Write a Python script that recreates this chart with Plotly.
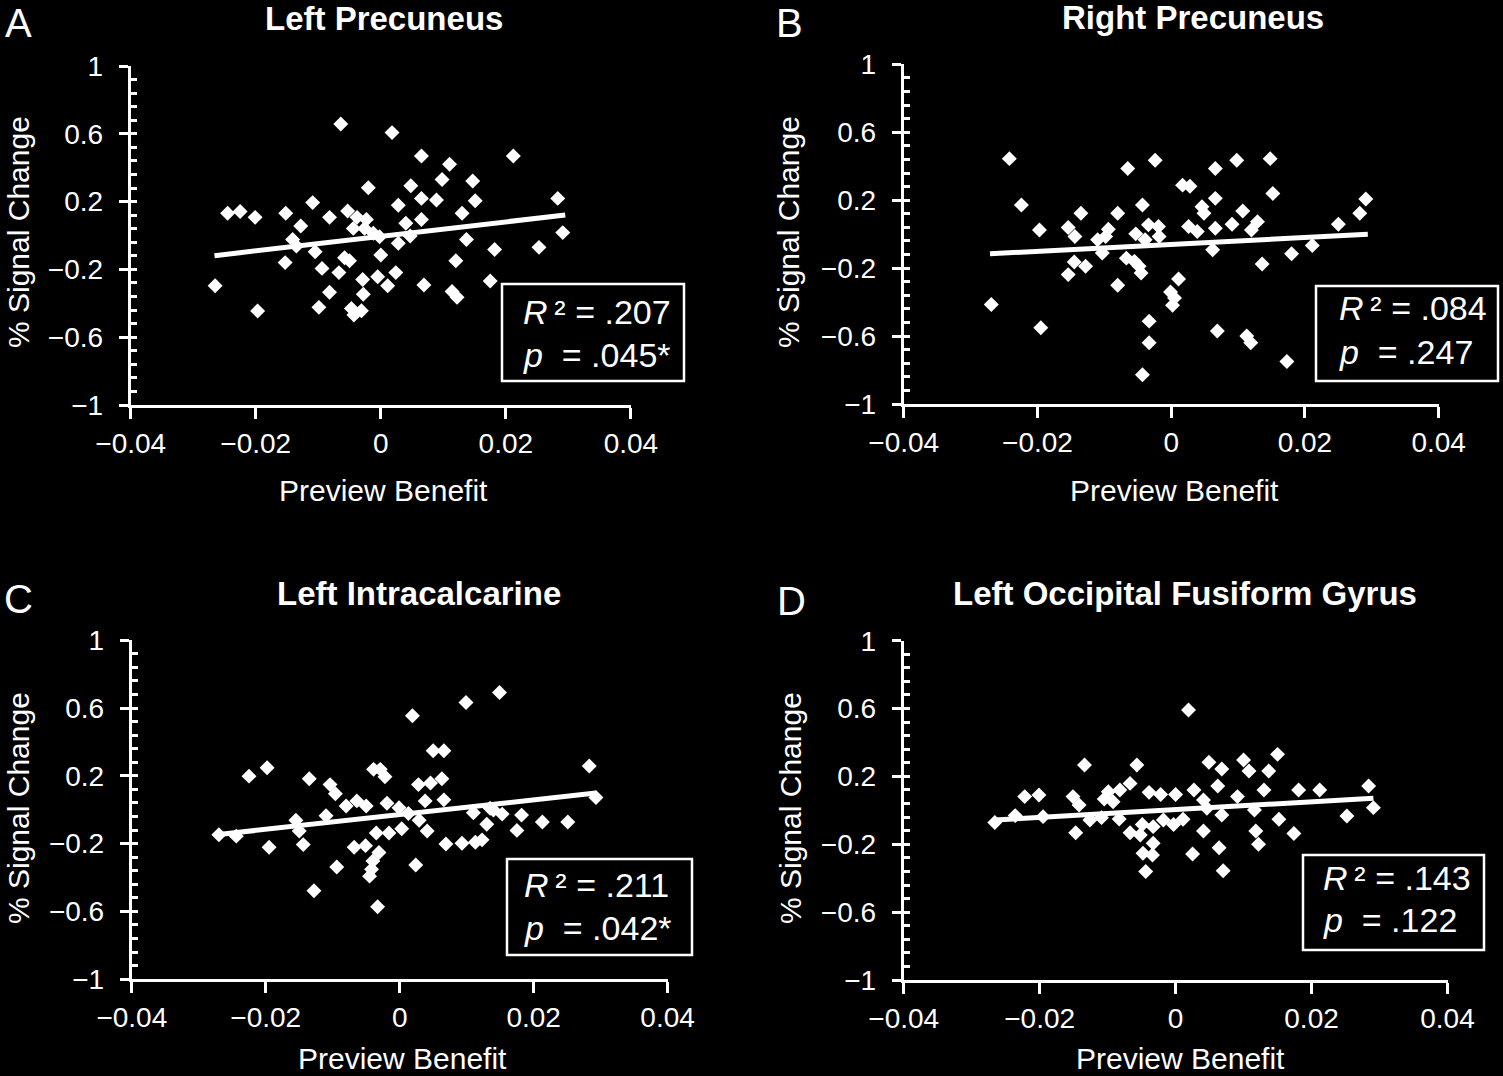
import plotly.graph_objects as go

W, H = 1503, 1076

# ---------------- data ----------------
panel_titles = ["Left Precuneus", "Right Precuneus", "Left Intracalcarine", "Left Occipital Fusiform Gyrus"]
panel_letters = ["A", "B", "C", "D"]
r2_labels = [".207", ".084", ".211", ".143"]
p_labels = [".045*", ".247", ".042*", ".122"]
x_tickvals = [-0.04, -0.02, 0, 0.02, 0.04]
x_ticktext = ["\u22120.04", "\u22120.02", "0", "0.02", "0.04"]
y_tickvals = [-1, -0.6, -0.2, 0.2, 0.6, 1]
y_ticktext = ["\u22121", "\u22120.6", "\u22120.2", "0.2", "0.6", "1"]
x_title = "Preview Benefit"
y_title = "% Signal Change"

A_x = [-0.0064, 0.0018, 0.0065, 0.0110, 0.0212, 0.0098, 0.0147, -0.0020, 0.0048, 0.0065, 0.0089, 0.0151,
       0.0283, -0.0109, 0.0028, -0.0245, -0.0225, -0.0201, -0.0152, -0.0082, -0.0053, -0.0038, -0.0023, 0.0130,
       0.0065, 0.0040, -0.0128, -0.0044, -0.0026, -0.0012, 0.0047, 0.0291, -0.0141, -0.0135, 0.0028, 0.0137,
       -0.0002, 0.0182, 0.0253, -0.0105, -0.0058, -0.0050, 0.0000, -0.0153, 0.0120, -0.0094, -0.0067, 0.0024,
       -0.0029, -0.0005, 0.0011, -0.0265, 0.0069, 0.0175, -0.0082, -0.0028, 0.0114, 0.0122, -0.0197, -0.0099,
       -0.0047, -0.0031, -0.0043]
A_y = [0.658, 0.607, 0.469, 0.420, 0.469, 0.331, 0.322, 0.282, 0.294, 0.219, 0.209, 0.205,
       0.219, 0.194, 0.178, 0.131, 0.141, 0.107, 0.131, 0.107, 0.145, 0.107, 0.095, 0.131,
       0.095, 0.072, 0.056, 0.042, 0.042, 0.013, -0.003, 0.017, -0.023, -0.062, -0.046, -0.023,
       -0.007, -0.082, -0.070, -0.096, -0.131, -0.149, -0.115, -0.160, -0.149, -0.194, -0.219, -0.219,
       -0.259, -0.243, -0.296, -0.296, -0.292, -0.268, -0.335, -0.347, -0.331, -0.365, -0.445, -0.424,
       -0.430, -0.444, -0.469]

B_x = [-0.0242, -0.0224, -0.0197, -0.0269, -0.0195, -0.0154, -0.0144, -0.0135, -0.0145, -0.0128, -0.0154,
       -0.0110, -0.0103, -0.0094, -0.0098, -0.0080, -0.0080, -0.0065, -0.0043, -0.0053, -0.0034, -0.0019,
       -0.0018, -0.0039, -0.0067, -0.0055, -0.0048, -0.0045, -0.0024, 0.0011, -0.0001, 0.0005, 0.0002,
       -0.0033, -0.0033, -0.0043, 0.0017, 0.0028, 0.0066, 0.0098, 0.0148, 0.0152, 0.0066, 0.0046, 0.0049,
       0.0026, 0.0039, 0.0066, 0.0091, 0.0107, 0.0129, 0.0120, 0.0062, 0.0136, 0.0180, 0.0211, 0.0250,
       0.0282, 0.0291, 0.0069, 0.0113, 0.0119, 0.0173]
B_y = [0.445, 0.172, 0.025, -0.414, -0.551, 0.039, -0.014, 0.123, -0.164, -0.189, -0.238,
       -0.033, -0.111, 0.029, -0.014, 0.123, -0.301, 0.387, 0.172, 0.002, 0.055, 0.045,
       -0.014, -0.033, -0.141, -0.160, -0.189, -0.229, 0.436, -0.264, -0.340, -0.375, -0.418,
       -0.512, -0.639, -0.828, 0.289, 0.283, 0.387, 0.436, 0.445, 0.240, 0.211, 0.162, 0.123,
       0.045, 0.016, 0.035, 0.059, 0.137, 0.074, 0.025, -0.092, -0.176, -0.115, -0.066, 0.059,
       0.123, 0.207, -0.570, -0.600, -0.639, -0.750]

C_x = [-0.0270, -0.0244, -0.0225, -0.0198, -0.0195, -0.0155, -0.0150, -0.0144, -0.0135, -0.0128, -0.0110,
       -0.0104, -0.0096, -0.0094, -0.0080, -0.0064, -0.0050, -0.0068, -0.0051, -0.0039, -0.0029, -0.0022,
       -0.0019, -0.0035, -0.0016, -0.0031, -0.0040, -0.0042, -0.0045, -0.0033, -0.0001, 0.0003, 0.0019,
       0.0013, 0.0028, 0.0029, 0.0038, 0.0041, 0.0024, 0.0046, 0.0063, 0.0050, 0.0066, 0.0066, 0.0069,
       0.0093, 0.0099, 0.0110, 0.0113, 0.0123, 0.0130, 0.0140, 0.0149, 0.0153, 0.0175, 0.0182, 0.0213,
       0.0251, 0.0283, 0.0293, 0.0135]
C_y = [-0.148, -0.156, 0.198, 0.248, -0.222, -0.062, -0.126, -0.206, 0.182, -0.478, -0.036,
       0.148, 0.094, -0.338, 0.022, 0.052, 0.022, -0.222, -0.212, 0.238, 0.238, 0.194,
       0.038, -0.138, -0.138, -0.252, -0.302, -0.352, -0.392, -0.572, 0.012, -0.112, 0.554,
       -0.022, 0.148, -0.062, 0.052, -0.126, -0.326, 0.158, 0.182, 0.348, 0.348, 0.058, -0.202,
       -0.198, 0.632, -0.018, -0.192, -0.178, -0.086, -0.002, 0.692, -0.026, -0.122, -0.032, -0.072,
       -0.072, 0.258, 0.072, 0.008]

D_x = [0.0019, -0.0134, -0.0057, 0.0049, 0.0068, 0.0100, 0.0108, 0.0137, 0.0150, -0.0222, -0.0201,
       -0.0151, -0.0142, -0.0099, -0.0082, -0.0067, -0.0105, -0.0092, -0.0039, -0.0022, 0.0000, 0.0027,
       0.0062, 0.0091, 0.0130, 0.0181, 0.0212, 0.0284, 0.0041, 0.0046, 0.0068, 0.0116, 0.0291, -0.0266,
       -0.0236, -0.0195, -0.0126, -0.0109, -0.0083, -0.0147, -0.0067, -0.0049, -0.0052, -0.0033, -0.0018,
       -0.0003, 0.0011, 0.0041, -0.0033, -0.0048, -0.0034, -0.0044, 0.0025, 0.0064, 0.0070, 0.0118,
       0.0122, 0.0152, 0.0174, 0.0252]
D_y = [0.591, 0.267, 0.267, 0.283, 0.244, 0.297, 0.232, 0.232, 0.330, 0.081, 0.090,
       0.081, 0.031, 0.110, 0.120, 0.159, 0.067, 0.051, 0.106, 0.094, 0.094, 0.120,
       0.143, 0.081, 0.120, 0.120, 0.120, 0.143, 0.061, 0.012, -0.028, 0.002, 0.016, -0.071,
       -0.031, -0.037, -0.057, -0.043, -0.051, -0.132, -0.132, -0.083, -0.145, -0.096, -0.057,
       -0.083, -0.053, -0.122, -0.194, -0.253, -0.263, -0.361, -0.257, -0.220, -0.356, -0.122,
       -0.200, -0.053, -0.136, -0.033]

trend_A_x = [-0.0266, 0.0295]
trend_A_y = [-0.119, 0.121]
trend_B_x = [-0.0271, 0.0294]
trend_B_y = [-0.115, 0.000]
trend_C_x = [-0.0270, 0.0293]
trend_C_y = [-0.146, 0.098]
trend_D_x = [-0.0266, 0.0291]
trend_D_y = [-0.057, 0.071]

# ---------------- layout (pixel geometry) ----------------
FONT = "Liberation Sans, Arial, Helvetica, sans-serif"
WHITE = "white"

# plot area per panel: (x_left, x_right, y_top, y_bottom) in px
plot_px = [(130.7, 630.9, 66.0, 405.0),
           (903.7, 1438.7, 64.4, 404.0),
           (131.8, 667.6, 640.2, 979.2),
           (903.7, 1447.5, 640.7, 980.0)]
title_pos = [(384, 18), (1193, 17), (419, 594), (1185, 594)]
letter_pos = [(18, 0), (789, 0), (18, 576), (791, 578)]      # top-anchored
xtitle_pos = [(383, 490), (1174, 490), (403, 1076), (1180, 1076)]
xtitle_anchor = ["middle", "middle", "bottom", "bottom"]
ytitle_pos = [(18, 232), (788, 232), (18, 808), (790, 808)]
box_px = [(502, 684, 284, 381), (1316, 1498, 286, 381), (507, 692, 859, 955), (1303, 1484, 855, 950)]
text_left = [521, 1337, 522, 1321]
line1_y = [312, 308, 885, 878]
line2_y = [355, 352, 928, 920]


def fx(px):
    return px / W


def fy(py):
    return 1 - py / H


series = [(A_x, A_y, trend_A_x, trend_A_y),
          (B_x, B_y, trend_B_x, trend_B_y),
          (C_x, C_y, trend_C_x, trend_C_y),
          (D_x, D_y, trend_D_x, trend_D_y)]

fig = go.Figure()
layout = dict(
    width=W, height=H,
    margin=dict(l=0, r=0, t=0, b=0, pad=0, autoexpand=False),
    paper_bgcolor="black", plot_bgcolor="black",
    showlegend=False,
    font=dict(family=FONT, color=WHITE),
)
annotations = []
shapes = []

for i, (xs, ys, tx, ty) in enumerate(series):
    n = i + 1
    xa = "x" if n == 1 else f"x{n}"
    ya = "y" if n == 1 else f"y{n}"
    ya_over = f"y{n + 4}"
    fig.add_trace(go.Scatter(x=tx, y=ty, mode="lines", xaxis=xa, yaxis=ya,
                             line=dict(color=WHITE, width=5), hoverinfo="skip"))
    fig.add_trace(go.Scatter(x=xs, y=ys, mode="markers", xaxis=xa, yaxis=ya,
                             marker=dict(symbol="diamond", size=11.5, color=WHITE,
                                         line=dict(width=0))))
    fig.add_trace(go.Scatter(x=[None], y=[None], xaxis=xa, yaxis=ya_over,
                             mode="markers", hoverinfo="skip"))

    x0, x1, y0, y1 = plot_px[i]
    xkey = "xaxis" if n == 1 else f"xaxis{n}"
    ykey = "yaxis" if n == 1 else f"yaxis{n}"
    layout[xkey] = dict(
        domain=[fx(x0), fx(x1)], anchor=ya, range=[-0.04, 0.04], automargin=False,
        tickmode="array", tickvals=x_tickvals, ticktext=x_ticktext,
        ticks="outside", ticklen=11, tickwidth=3, tickcolor=WHITE,
        showline=True, linewidth=3, linecolor=WHITE,
        showgrid=False, zeroline=False,
        tickfont=dict(family=FONT, size=28, color=WHITE),
        ticklabelstandoff=0,
    )
    layout[ykey] = dict(
        domain=[fy(y1), fy(y0)], anchor=xa, range=[-1, 1], automargin=False,
        tickmode="array", tickvals=y_tickvals, ticktext=y_ticktext,
        ticks="outside", ticklen=9, tickwidth=3, tickcolor=WHITE,
        showline=True, linewidth=3, linecolor=WHITE,
        showgrid=False, zeroline=False,
        tickfont=dict(family=FONT, size=28, color=WHITE),
        ticklabelstandoff=10,
    )
    layout[f"yaxis{n + 4}"] = dict(
        overlaying=ya, anchor=xa, side="left", range=[-1, 1], automargin=False,
        tickmode="linear", tick0=-1, dtick=0.08,
        ticks="inside", ticklen=6, tickwidth=3, tickcolor=WHITE,
        showticklabels=False, showline=False, showgrid=False, zeroline=False,
    )

    # title
    annotations.append(dict(text=f"<b>{panel_titles[i]}</b>", x=fx(title_pos[i][0]), y=fy(title_pos[i][1]),
                            xref="paper", yref="paper", xanchor="center", yanchor="middle",
                            showarrow=False, font=dict(family=FONT, size=33, color=WHITE)))
    # letter
    annotations.append(dict(text=panel_letters[i], x=fx(letter_pos[i][0]), y=fy(letter_pos[i][1]),
                            xref="paper", yref="paper", xanchor="center", yanchor="top",
                            borderpad=0, showarrow=False, font=dict(family=FONT, size=40, color=WHITE)))
    # axis titles
    annotations.append(dict(text=x_title, x=fx(xtitle_pos[i][0]), y=fy(xtitle_pos[i][1]),
                            xref="paper", yref="paper", xanchor="center", yanchor=xtitle_anchor[i],
                            borderpad=0, showarrow=False, font=dict(family=FONT, size=30, color=WHITE)))
    annotations.append(dict(text=y_title, x=fx(ytitle_pos[i][0]), y=fy(ytitle_pos[i][1]),
                            xref="paper", yref="paper", xanchor="center", yanchor="middle",
                            textangle=-90, showarrow=False, font=dict(family=FONT, size=30, color=WHITE)))
    # stats box
    bx0, bx1, by0, by1 = box_px[i]
    shapes.append(dict(type="rect", xref="paper", yref="paper",
                       x0=fx(bx0), x1=fx(bx1), y0=fy(by1), y1=fy(by0),
                       line=dict(color=WHITE, width=2.5), fillcolor="black", layer="above"))
    annotations.append(dict(text=f"<i>R</i>\u2009\u00b2 = {r2_labels[i]}", x=fx(text_left[i]), y=fy(line1_y[i]),
                            xref="paper", yref="paper", xanchor="left", yanchor="middle",
                            showarrow=False, font=dict(family=FONT, size=34, color=WHITE)))
    annotations.append(dict(text=f"<i>p</i> \u00a0= {p_labels[i]}", x=fx(text_left[i]), y=fy(line2_y[i]),
                            xref="paper", yref="paper", xanchor="left", yanchor="middle",
                            showarrow=False, font=dict(family=FONT, size=34, color=WHITE)))

layout["annotations"] = annotations
layout["shapes"] = shapes
fig.update_layout(**layout)

fig.write_html("out.html")
